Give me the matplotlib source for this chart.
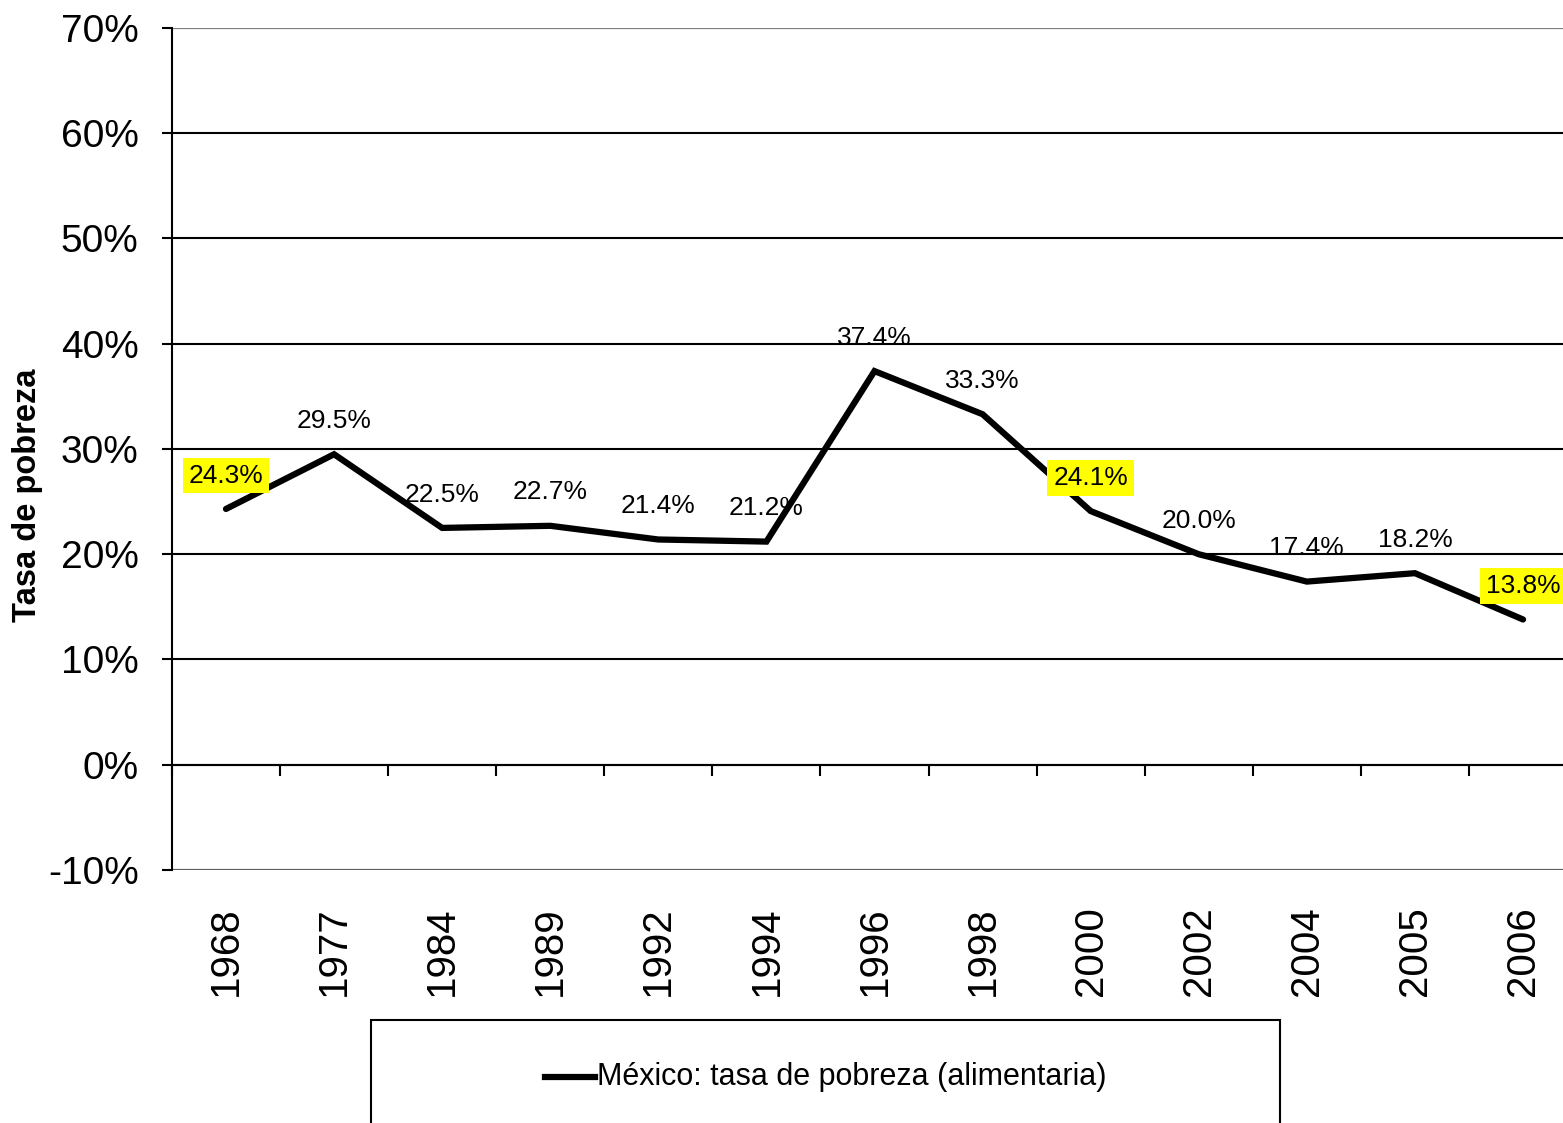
import matplotlib
matplotlib.use("Agg")
import matplotlib.pyplot as plt
from matplotlib.patches import Rectangle
from matplotlib.lines import Line2D
from matplotlib.ticker import FuncFormatter

plt.rcParams['font.family'] = ['Liberation Sans', 'DejaVu Sans']

# data
years = ['1968', '1977', '1984', '1989', '1992', '1994', '1996',
         '1998', '2000', '2002', '2004', '2005', '2006']
tasa = [24.3, 29.5, 22.5, 22.7, 21.4, 21.2, 37.4,
        33.3, 24.1, 20.0, 17.4, 18.2, 13.8]
highlight = ['1968', '2000', '2006']
serie = 'México: tasa de pobreza (alimentaria)'

fig = plt.figure(figsize=(15.63, 11.23), dpi=100)
ax = fig.add_axes([0.110, 0.2253, 0.899, 0.7498])

x = list(range(len(years)))
ax.plot(x, tasa, color='black', lw=4.5, solid_capstyle='round', solid_joinstyle='miter', zorder=3)

for xi, yr, v in zip(x, years, tasa):
    if yr in highlight:
        box = dict(boxstyle='square,pad=0.22', fc='#FFFF00', ec='none')
    else:
        box = None
    ax.annotate(f'{v:.1f}%', (xi, v), xytext=(0, 24), textcoords='offset points',
                ha='center', va='center', fontsize=19, bbox=box, zorder=4)

ax.set_xlim(-0.5, len(years) - 0.5)
ax.set_ylim(-10, 70)
ax.set_yticks(range(-10, 71, 10))
ax.yaxis.set_major_formatter(FuncFormatter(lambda v, p: f'{v:.0f}%'))
ax.tick_params(axis='y', labelsize=28, length=7, width=1.5, pad=17, color='black')

ax.set_xticks(x)
ax.set_xticklabels(years, rotation=90, fontsize=29)
ax.tick_params(axis='x', length=0, pad=26)

ax.grid(axis='y', color='black', lw=1.5)
for yl, c in [(70, '#808080'), (-10, '#606060')]:
    ax.axhline(yl, color=c, lw=1.5, zorder=2)

for s in ['top', 'right', 'bottom']:
    ax.spines[s].set_visible(False)
ax.spines['left'].set_linewidth(1.5)

# category ticks on the 0% line
sec = ax.secondary_xaxis(0.125)
sec.set_xticks([i - 0.5 for i in range(len(years) + 1)])
sec.set_xticklabels([])
sec.tick_params(length=8, width=1.5, direction='out')
sec.spines['bottom'].set_linewidth(1.5)

ax.set_ylabel('Tasa de pobreza', fontsize=23.5, fontweight='bold')
ax.yaxis.set_label_coords(-0.092, 0.445)

# legend box
fig.add_artist(Rectangle((371 / 1563, -0.05), (1280 - 371) / 1563, 0.05 + (1123 - 1020) / 1123,
                         transform=fig.transFigure, fill=False, ec='black', lw=1.5))
fig.add_artist(Line2D([545 / 1563, 595 / 1563], [1 - 1077 / 1123] * 2,
                      transform=fig.transFigure, color='black', lw=4.5))
fig.text(597 / 1563, 1 - 1077 / 1123, serie, fontsize=22, va='center', ha='left')

fig.savefig('out.png', dpi=100)
